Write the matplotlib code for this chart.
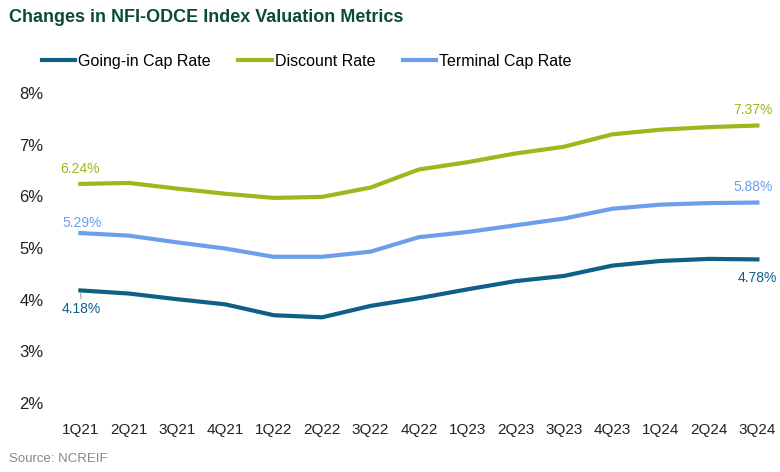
import matplotlib
matplotlib.use("Agg")
import matplotlib.pyplot as plt

quarters = ["1Q21", "2Q21", "3Q21", "4Q21", "1Q22", "2Q22", "3Q22", "4Q22",
            "1Q23", "2Q23", "3Q23", "4Q23", "1Q24", "2Q24", "3Q24"]
going_in = [4.18, 4.12, 4.01, 3.91, 3.70, 3.66, 3.88, 4.03,
            4.20, 4.36, 4.46, 4.66, 4.75, 4.79, 4.78]
discount = [6.24, 6.26, 6.15, 6.05, 5.97, 5.99, 6.17, 6.52,
            6.66, 6.83, 6.96, 7.20, 7.29, 7.34, 7.37]
terminal = [5.29, 5.24, 5.11, 4.99, 4.83, 4.83, 4.93, 5.21,
            5.31, 5.44, 5.57, 5.76, 5.84, 5.87, 5.88]

c_going = "#0f5f86"
c_disc = "#a3b51d"
c_term = "#6d9eea"

plt.rcParams['font.family'] = ['Liberation Sans', 'DejaVu Sans']

fig = plt.figure(figsize=(7.8, 4.72), dpi=100)
ax = fig.add_axes([0.072, 0.146, 0.93, 0.657])

x = list(range(len(quarters)))
ax.plot(x, going_in, color=c_going, lw=3, label="Going-in Cap Rate")
ax.plot(x, discount, color=c_disc, lw=3, label="Discount Rate")
ax.plot(x, terminal, color=c_term, lw=3, label="Terminal Cap Rate")

ax.set_xlim(-0.5, 14.5)
ax.set_ylim(2, 8)
ax.set_yticks([2, 3, 4, 5, 6, 7, 8])
ax.set_yticklabels([f"{v}%" for v in range(2, 9)])
ax.set_xticks(x)
ax.set_xticklabels(quarters, fontsize=11)
ax.tick_params(length=0, colors="#222222")
ax.tick_params(axis='y', pad=9, labelsize=12)
ax.tick_params(axis='x', pad=14)
for s in ax.spines.values():
    s.set_visible(False)

# end point labels
ax.annotate(f"{discount[0]:.2f}%", (0, discount[0]), xytext=(0, 6), textcoords="offset points",
            ha="center", va="bottom", color=c_disc, fontsize=10)
ax.annotate(f"{terminal[0]:.2f}%", (0, terminal[0]), xytext=(1, 2), textcoords="offset points",
            ha="center", va="bottom", color=c_term, fontsize=10)
ax.annotate(f"{going_in[0]:.2f}%", (0, going_in[0]), xytext=(1, -8), textcoords="offset points",
            ha="center", va="top", color=c_going, fontsize=10,
            arrowprops=dict(arrowstyle="-", color="#aaaaaa", lw=0.8, shrinkA=0, shrinkB=2))
ax.annotate(f"{discount[-1]:.2f}%", (14, discount[-1]), xytext=(-3, 6), textcoords="offset points",
            ha="center", va="bottom", color=c_disc, fontsize=10)
ax.annotate(f"{terminal[-1]:.2f}%", (14, terminal[-1]), xytext=(-3, 6), textcoords="offset points",
            ha="center", va="bottom", color=c_term, fontsize=10)
ax.annotate(f"{going_in[-1]:.2f}%", (14, going_in[-1]), xytext=(0, -8), textcoords="offset points",
            ha="center", va="top", color=c_going, fontsize=10)

fig.text(0.012, 0.962, "Changes in NFI-ODCE Index Valuation Metrics", fontsize=13,
         fontweight="bold", color="#0b4a3b", va="center")
fig.legend(loc="center left", bbox_to_anchor=(0.035, 0.87), ncol=3, frameon=False,
           fontsize=11.5, handlelength=2.1, handletextpad=0.2, columnspacing=1.7)
fig.text(0.012, 0.027, "Source: NCREIF", fontsize=9.5, color="#888888", va="center")

fig.savefig("out.png", dpi=100)
